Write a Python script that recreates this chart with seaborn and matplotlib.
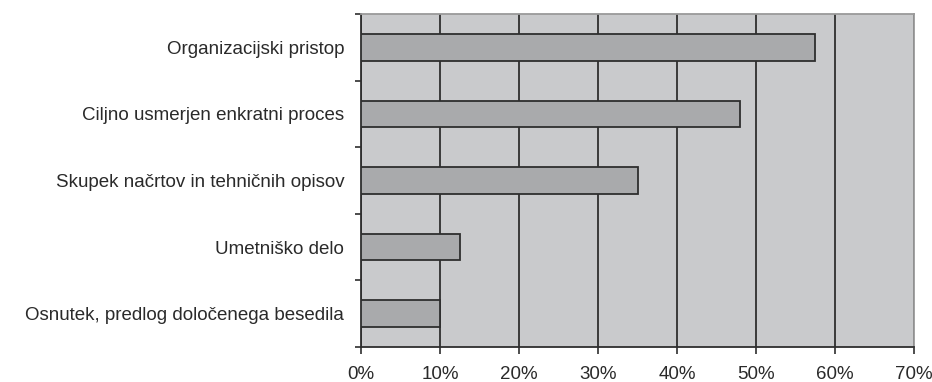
import matplotlib
matplotlib.use("Agg")
import matplotlib.pyplot as plt
from matplotlib.ticker import FixedLocator, FuncFormatter
import numpy as np
import pandas as pd
import seaborn as sns

categories = [
    "Organizacijski pristop",
    "Ciljno usmerjen enkratni proces",
    "Skupek načrtov in tehničnih opisov",
    "Umetniško delo",
    "Osnutek, predlog določenega besedila",
]
shares = [57.5, 48.0, 35.0, 12.5, 10.0]
x_ticks = [0, 10, 20, 30, 40, 50, 60, 70]

df = pd.DataFrame({"kategorija": categories, "delez": shares})

sns.set_theme(style="white")
plt.rcParams["font.family"] = ["Liberation Sans", "DejaVu Sans"]

fig = plt.figure(figsize=(9.32, 3.82), dpi=100)
ax = fig.add_axes([361 / 932, 1 - 347 / 382, (914 - 361) / 932, (347 - 14) / 382])
ax.set_facecolor("#c9cacc")

sns.barplot(data=df, x="delez", y="kategorija", orient="h", ax=ax,
            color="#a9aaac", saturation=1, width=0.4,
            edgecolor="#2e2e2e", linewidth=1.3, zorder=3)

ax.set_xlim(0, 70)
ax.set_ylim(len(categories) - 0.5, -0.5)

# vertical gridlines behind the bars
ax.xaxis.set_major_locator(FixedLocator(x_ticks))
ax.xaxis.set_major_formatter(FuncFormatter(lambda v, p: f"{v:.0f}%"))
ax.grid(axis="x", color="#2e2e2e", linewidth=1.3, zorder=0)
ax.grid(axis="y", visible=False)
ax.set_axisbelow(True)

# y ticks at the category boundaries, labels at the centres
n = len(categories)
ax.yaxis.set_major_locator(FixedLocator(np.arange(-0.5, n, 1.0)))
ax.yaxis.set_major_formatter(FuncFormatter(lambda v, p: ""))
ax.yaxis.set_minor_locator(FixedLocator(np.arange(n)))
ax.set_yticklabels(categories, minor=True)
ax.tick_params(axis="y", which="major", direction="out", length=4, width=1.2,
               color="#2e2e2e", left=True)
ax.tick_params(axis="y", which="minor", length=0, pad=12,
               labelsize=13.5, labelcolor="#2a2a2a")
ax.tick_params(axis="x", which="major", direction="out", length=5, width=1.2,
               color="#2e2e2e", bottom=True, pad=9,
               labelsize=13.5, labelcolor="#2a2a2a")

ax.set_xlabel("")
ax.set_ylabel("")

for side in ("left", "bottom"):
    ax.spines[side].set_color("#2e2e2e")
    ax.spines[side].set_linewidth(1.3)
for side in ("top", "right"):
    ax.spines[side].set_color("#9a9a9a")
    ax.spines[side].set_linewidth(1.3)

fig.savefig("out.png", dpi=100, facecolor="white")
